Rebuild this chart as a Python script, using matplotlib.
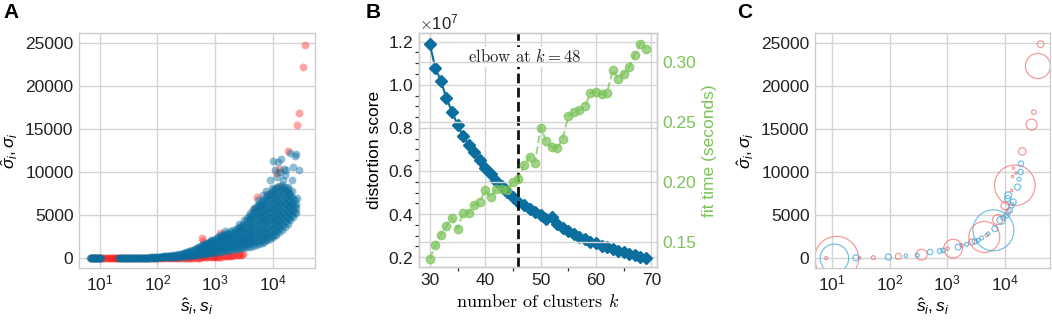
import numpy as np
import matplotlib
matplotlib.use("Agg")
import matplotlib.pyplot as plt
from matplotlib.ticker import MultipleLocator, FormatStrFormatter, ScalarFormatter

plt.rcParams['font.family'] = ['Liberation Sans', 'DejaVu Sans']
plt.rcParams['mathtext.fontset'] = 'custom'
plt.rcParams['mathtext.rm'] = 'Liberation Sans'
plt.rcParams['mathtext.it'] = 'Liberation Sans:italic'
plt.rcParams['mathtext.bf'] = 'Liberation Sans:bold'
plt.rcParams['font.size'] = 12

# ---------------- panel A: cluster size vs spread ----------------
# blue = estimated (hat) values, low-size band
blue_low_s = [6.8, 7.1, 7.4, 7.7, 8.0, 8.4, 8.8, 9.2, 9.6, 10.0, 10.4,
              21, 22.5, 24, 25.5, 27, 29, 31, 33, 35, 37.5,
              40, 42.5, 45, 48, 51, 54, 58, 62, 66, 70,
              75, 80, 85, 91, 97]
blue_low_sigma = [0, 0, 0, 0, 0, 0, 0, 0, 0, 0, 0,
                  5, 10, 8, 15, 12, 20, 18, 25, 22, 30,
                  28, 35, 40, 38, 45, 50, 48, 55, 60, 58,
                  70, 75, 72, 85, 90]
blue_low2_s = [6.95, 7.25, 7.55, 7.85, 8.2, 8.6, 9.0, 9.4, 9.8, 10.2,
               21.7, 23.2, 24.7, 26.2, 28, 30, 32, 34, 36.2, 38.7,
               41.2, 43.7, 46.5, 49.5, 52.5, 56, 60, 64, 68, 72.5,
               77.5, 82.5, 88, 94]
blue_low2_sigma = [0, 0, 0, 0, 0, 0, 0, 0, 0, 0,
                   0, 0, 0, 0, 0, 0, 0, 0, 5, 5,
                   5, 10, 10, 10, 15, 15, 20, 20, 25, 25,
                   30, 30, 35, 40]

# blue dense cloud, listed column by column (s, spread values)
blue_col_s = [100, 112, 126, 141, 158, 178, 200, 224, 251, 282,
              316, 355, 398, 447, 501, 562, 631, 708, 794, 891,
              1000, 1122, 1259, 1413, 1585, 1778, 1995, 2239, 2512, 2818,
              3162, 3548, 3981, 4467, 5012, 5623, 6310, 7079, 7943, 8913,
              10000, 11220, 12589, 14125, 15849, 17783, 19953, 22387, 25119]
blue_col_sigma = [
    [60, 120], [70, 150], [80, 130, 190], [90, 160, 230], [100, 180, 270],
    [115, 210, 320], [130, 240, 380], [150, 280, 440], [165, 300, 480], [185, 350, 560],
    [210, 420, 680], [240, 470, 760], [270, 530, 880], [310, 600, 1000], [350, 650, 1000, 1340],
    [390, 720, 1100, 1450], [430, 800, 1200, 1600], [480, 850, 1300, 1700], [530, 950, 1400, 1850], [580, 1000, 1500, 2000],
    [630, 1100, 1650, 2200], [680, 1150, 1750, 2450], [730, 1200, 1700, 2250, 2700], [790, 1300, 1800, 2350, 2800], [850, 1350, 1900, 2450, 2950],
    [900, 1400, 1950, 2550, 3100], [950, 1500, 2050, 2700, 3250], [1000, 1550, 2100, 2750, 3400], [1060, 1600, 2150, 2850, 3550], [1120, 1700, 2250, 2900, 3450, 3750],
    [1180, 1800, 2350, 3000, 3700, 4400], [1250, 1900, 2500, 3200, 3900, 4600], [1320, 1950, 2600, 3300, 4000, 4700, 5200],
    [1400, 2050, 2700, 3400, 4100, 4850, 5600], [1480, 2150, 2850, 3550, 4300, 5000, 5800],
    [1580, 2300, 3000, 3700, 4450, 5200, 5900, 6250], [1720, 2450, 3150, 3900, 4600, 5350, 6100, 6600],
    [1880, 2600, 3300, 4050, 4800, 5550, 6300, 6900], [2050, 2750, 3500, 4250, 5000, 5750, 6500, 7200],
    [2250, 2950, 3700, 4450, 5200, 5950, 6700, 7500], [2450, 3150, 3900, 4650, 5400, 6150, 6900, 7900],
    [2700, 3400, 4150, 4900, 5650, 6400, 7150, 8200], [3000, 3700, 4400, 5150, 5900, 6650, 7400, 8400],
    [3300, 4000, 4700, 5400, 6150, 6900, 7650, 8500], [3650, 4300, 5000, 5700, 6400, 7150, 7900, 8300],
    [4000, 4700, 5400, 6100, 6800, 7500, 8000], [4400, 5100, 5800, 6500, 7200, 7600],
    [4800, 5500, 6200, 6900], [5200, 5800, 6300],
]
# second set of columns sitting between the first ones
blue_col2_s = [106, 119, 133, 150, 168, 189, 212, 237, 266, 299,
               335, 376, 422, 473, 531, 596, 668, 750, 841, 944,
               1059, 1189, 1334, 1496, 1679, 1884, 2113, 2371, 2661, 2985,
               3350, 3758, 4217, 4732, 5309, 5957, 6683, 7499, 8414, 9441,
               10593, 11885, 13335, 14962, 16788, 18836, 21135, 23714]
blue_col2_sigma = [
    [95], [110, 165], [120, 200], [130, 220], [150, 250],
    [170, 290], [190, 340], [220, 380], [240, 420, 520], [270, 460, 620],
    [310, 540, 720], [350, 600, 820], [400, 700, 940], [450, 800, 1150], [500, 850, 1200],
    [560, 950, 1300, 1550], [620, 1000, 1400, 1650], [660, 1100, 1500, 1800], [720, 1200, 1650, 1950], [780, 1300, 1800, 2100],
    [850, 1350, 1900, 2350], [900, 1450, 2000, 2550], [960, 1500, 2050, 2550], [1050, 1600, 2150, 2700], [1100, 1650, 2200, 2800],
    [1150, 1750, 2300, 2900], [1200, 1800, 2400, 3050], [1250, 1850, 2450, 3100], [1300, 1900, 2500, 3200, 3650], [1400, 2000, 2600, 3300, 3900],
    [1500, 2150, 2850, 3550, 4250], [1600, 2200, 2900, 3600, 4300, 4900], [1700, 2300, 3000, 3700, 4400, 5000],
    [1800, 2450, 3150, 3850, 4600, 5300], [1900, 2600, 3300, 4000, 4750, 5500, 6000],
    [2000, 2700, 3400, 4150, 4850, 5600, 6300], [2100, 2800, 3550, 4300, 5000, 5750, 6500],
    [2250, 2950, 3700, 4450, 5150, 5900, 6700], [2400, 3100, 3850, 4600, 5350, 6100, 6900, 7400],
    [2600, 3300, 4050, 4800, 5550, 6300, 7100, 7700], [2850, 3550, 4300, 5050, 5800, 6550, 7300, 8000],
    [3100, 3800, 4550, 5300, 6050, 6800, 7550, 8300], [3450, 4150, 4850, 5550, 6300, 7050, 7800],
    [3800, 4500, 5200, 5900, 6650, 7400, 8100], [4200, 4900, 5600, 6300, 7050, 7750],
    [4600, 5300, 6000, 6700, 7400], [5000, 5700, 6400, 7100], [5400, 6000, 6700],
]
blue_out_s = [850, 1500, 2600, 4600, 5500, 6800, 7500, 8700, 9500, 10000,
              10700, 11500, 12100, 13000, 13700, 14900, 15500, 16000, 17000, 18200,
              19600, 20800, 21000, 22200, 24000, 24500, 26000, 28400]
blue_out_sigma = [2100, 3200, 4000, 5770, 6800, 7300, 7800, 9030, 8200, 11340,
                  10190, 9420, 11150, 10000, 11500, 9030, 10300, 9600, 10190, 8260,
                  12190, 9030, 7800, 10570, 11920, 12040, 7000, 10190]

# red = true values
red_band_s = [7.0, 7.5, 8.0, 8.6, 9.2, 9.8, 10.5, 11.2, 12.0, 12.8,
              13.7, 14.6, 15.6, 16.6, 17.5, 18.3, 19.2, 20.2, 21.5, 23,
              25, 27, 29.5, 32, 35, 38, 41, 45, 49, 53,
              58, 63, 69, 75, 82, 89, 97, 106, 115, 125,
              137, 149, 162, 177, 193, 210, 229, 250, 272, 297,
              323, 352, 384, 419, 456, 497, 542, 590, 643, 700,
              760, 830, 905, 985, 1075, 1170, 1275, 1390, 1515, 1650,
              1800, 1960, 2140, 2330, 2540, 2770, 3020]
red_band_sigma = [0, 0, 0, 0, 0, 0, 0, 0, 0, 0,
                  0, 0, 0, 0, 0, 0, 0, 0, 0, 0,
                  0, 0, 5, 0, 5, 0, 5, 0, 10, 5,
                  10, 5, 10, 5, 15, 10, 15, 10, 20, 15,
                  20, 15, 25, 20, 30, 25, 30, 35, 30, 40,
                  35, 45, 40, 50, 55, 60, 60, 70, 75, 85,
                  90, 100, 110, 120, 135, 150, 165, 185, 200, 225,
                  250, 270, 300, 330, 360, 400, 440]
red_out_s = [590, 620, 1190, 4700, 5350, 7800, 10400, 11500, 12500, 13500,
             17800, 25800, 28300, 32500, 35500]
red_out_sigma = [2300, 2000, 2950, 5650, 7040, 7500, 7400, 9900, 10300, 8300,
                 12420, 15460, 16880, 22230, 24800]

# ---------------- panel B: elbow curve ----------------
k_values = np.arange(30, 70)
distortion = np.array([1.189, 1.077, 1.019, 0.938, 0.876, 0.814, 0.763, 0.722, 0.686, 0.652,
                       0.614, 0.585, 0.555, 0.528, 0.503, 0.478, 0.455, 0.440, 0.422, 0.410,
                       0.395, 0.378, 0.385, 0.352, 0.335, 0.322, 0.308, 0.295, 0.283, 0.272,
                       0.264, 0.254, 0.245, 0.240, 0.230, 0.222, 0.214, 0.208, 0.200, 0.196])  # x 1e7
fit_time = [0.136, 0.147, 0.156, 0.163, 0.170, 0.161, 0.174, 0.174, 0.181, 0.183,
            0.193, 0.187, 0.194, 0.194, 0.193, 0.200, 0.202, 0.214, 0.221, 0.216,
            0.245, 0.234, 0.229, 0.228, 0.236, 0.255, 0.258, 0.260, 0.263, 0.274,
            0.275, 0.273, 0.274, 0.293, 0.286, 0.290, 0.296, 0.306, 0.315, 0.311]
elbow_line_k = 46
elbow_label = 48

# ---------------- panel C: aggregated circles ----------------
red_c_s = [7.9, 12, 30, 52, 141, 358, 1010, 1260, 1767, 2636,
           4370, 4797, 7447, 10000, 11370, 13000, 13500, 14000, 14800, 15500,
           19900, 28900, 31700, 37200, 41400]
red_c_sigma = [30, 0, 50, 80, 230, 430, 1124, 1130, 1512, 1900,
               2480, 2675, 4500, 6100, 5390, 7900, 9500, 10500, 8490, 9900,
               12440, 15550, 17000, 22370, 24900]
red_c_size = [5, 1000, 3, 8, 19, 63, 5, 181, 6, 19,
              498, 5, 52, 33, 13, 3, 3, 3, 858, 3,
              28, 63, 11, 324, 23]
blue_c_s = [11, 26, 95, 190, 300, 500, 740, 849, 1545, 2157,
            3006, 3435, 3926, 5128, 6300, 6683, 8490, 9310, 10640, 11370,
            12160, 13000, 11070, 13900, 16500, 17500, 18600, 18900]
blue_c_sigma = [0, 60, 150, 300, 350, 730, 850, 930, 1318, 1628,
                1977, 2093, 2365, 2869, 3260, 3450, 4420, 4730, 5000, 7330,
                5580, 6160, 6940, 6550, 8290, 9200, 10040, 11010]
blue_c_size = [420, 19, 19, 6, 8, 15, 13, 11, 19, 8,
               15, 8, 8, 6, 870, 19, 33, 13, 13, 25,
               13, 13, 19, 19, 19, 8, 15, 15]

BLUE = '#0a6e9e'
RED = '#ff1a1a'
GREEN = '#7cc35a'
GRID = '#d4d4d4'
TXT = '#222222'

blue_s = list(blue_low_s) + list(blue_low2_s) + list(blue_out_s)
blue_sigma = list(blue_low_sigma) + list(blue_low2_sigma) + list(blue_out_sigma)
for s, sigs in list(zip(blue_col_s, blue_col_sigma)) + list(zip(blue_col2_s, blue_col2_sigma)):
    blue_s += [s] * len(sigs)
    blue_sigma += sigs

fig = plt.figure(figsize=(10.52, 3.21), dpi=100)
W, H = 1052, 321


def px_axes(left, right, top, bottom):
    return fig.add_axes([left / W, 1 - bottom / H, (right - left) / W, (bottom - top) / H])


def style(ax):
    ax.grid(True, which='major', color=GRID, lw=1)
    ax.set_axisbelow(True)
    for sp in ax.spines.values():
        sp.set_color('#cccccc')
        sp.set_linewidth(1)
    ax.tick_params(which='both', length=0, labelsize=12.5, colors=TXT, pad=4)


# panel A
axA = px_axes(79, 315, 33, 268)
axA.set_xscale('log')
axA.scatter(red_band_s, red_band_sigma, s=32, color=RED, alpha=0.45, lw=0)
axA.scatter(red_out_s, red_out_sigma, s=32, color=RED, alpha=0.4, lw=0)
axA.scatter(blue_s, blue_sigma, s=32, color=BLUE, alpha=0.45, lw=0)
axA.set_xlim(4.39, 53000)
axA.set_ylim(-1160, 26170)
axA.set_yticks([0, 5000, 10000, 15000, 20000, 25000])
axA.set_xticks([10, 100, 1000, 10000])
style(axA)
axA.set_xlabel(r'$\hat{s}_i, s_i$', fontsize=12.5, labelpad=2)
axA.set_ylabel(r'$\hat{\sigma}_i, \sigma_i$', fontsize=12.5)

# panel B
axB = px_axes(419, 656.7, 33.3, 267.3)
axB.plot(k_values, distortion * 1e7, color=BLUE, marker='D', markersize=6, lw=1.5)
axB.axvline(elbow_line_k, color='#111111', ls='--', lw=2, dashes=(3.5, 1.6))
axB.text(47.1, 1.13e7, r'elbow at $k=%d$' % elbow_label, family='cmr10', math_fontfamily='cm',
         fontsize=12, ha='center', va='center', color=TXT,
         bbox=dict(fc='white', ec='none', pad=1))
axB.set_xlim(28.05, 70.95)
axB.set_ylim(0.153e7, 1.239e7)
axB.set_xticks([30, 40, 50, 60, 70])
axB.set_yticks(np.array([0.2, 0.4, 0.6, 0.8, 1.0, 1.2]) * 1e7)
axB.yaxis.set_major_formatter(ScalarFormatter(useMathText=True))
axB.xaxis.set_minor_locator(MultipleLocator(5))
axB.yaxis.set_minor_locator(MultipleLocator(0.05e7))
style(axB)
axB.tick_params(which='minor', length=3, width=0.9, color='#333333')
axB.yaxis.get_offset_text().set_math_fontfamily('cm')
axB.yaxis.get_offset_text().set_fontsize(12)
axB.set_ylabel('distortion score', fontsize=12.5)
axB.set_xlabel(r'number of clusters $k$', family='cmr10', math_fontfamily='cm', fontsize=13)

axB2 = axB.twinx()
axB2.plot(k_values, fit_time, color=GREEN, marker='o', markersize=6, ls='--', lw=1.5, alpha=0.7)
axB2.set_ylim(0.1287, 0.3237)
axB2.set_yticks([0.15, 0.20, 0.25, 0.30])
axB2.yaxis.set_major_formatter(FormatStrFormatter('%.2f'))
style(axB2)
axB2.tick_params(which='both', length=0, labelcolor=GREEN)
axB2.set_ylabel('fit time (seconds)', color=GREEN, fontsize=12.5)

# panel C
axC = px_axes(815, 1050, 33.3, 268.3)
axC.set_xscale('log')
axC.scatter(red_c_s, red_c_sigma, s=red_c_size, facecolors='none', edgecolors='#f07070',
            linewidths=0.9, alpha=0.7)
axC.scatter(blue_c_s, blue_c_sigma, s=blue_c_size, facecolors='none', edgecolors='#3ea6d6',
            linewidths=0.9, alpha=0.7)
axC.set_xlim(5.07, 60300)
axC.set_ylim(-1160, 26170)
axC.set_yticks([0, 5000, 10000, 15000, 20000, 25000])
axC.set_xticks([10, 100, 1000, 10000])
style(axC)
axC.set_xlabel(r'$\hat{s}_i, s_i$', fontsize=12.5, labelpad=2)
axC.set_ylabel(r'$\hat{\sigma}_i, \sigma_i$', fontsize=12.5)

for label, x in [('A', 3), ('B', 366), ('C', 737)]:
    fig.text(x / W, 1 - 3 / H, label, fontsize=15, fontweight='bold', va='top', ha='left', color='black')

fig.savefig('out.png', dpi=100)
